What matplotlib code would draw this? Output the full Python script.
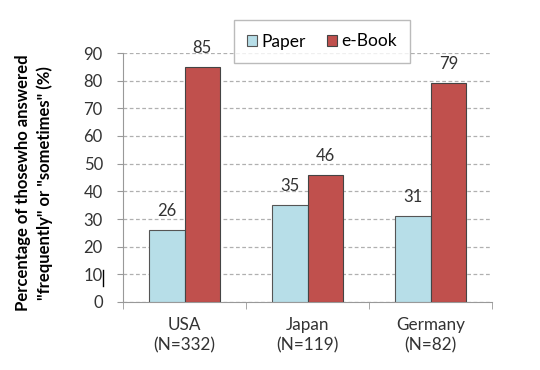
import numpy as np
import matplotlib.pyplot as plt
from matplotlib.lines import Line2D

plt.rcParams['font.family'] = ['Lato', 'DejaVu Sans']

countries = ['USA\n(N=332)', 'Japan\n(N=119)', 'Germany\n(N=82)']
paper = [26, 35, 31]
ebook = [85, 46, 79]

fig = plt.figure(figsize=(5.4, 3.7), dpi=100)
ax = fig.add_axes([123/540, 1-302/370, 369/540, 249/370])

x = np.arange(len(countries))
w = 0.29
b1 = ax.bar(x - w/2, paper, w, color='#B7DEE8', edgecolor='#555555', linewidth=0.8,
            label='Paper', zorder=3)
b2 = ax.bar(x + w/2, ebook, w, color='#C0504D', edgecolor='#444444', linewidth=0.8,
            label='e-Book', zorder=3)
ax.bar_label(b1, padding=8, fontsize=12, color='#333333')
ax.bar_label(b2, padding=8, fontsize=12, color='#333333')

ax.set_xlim(-0.5, 2.5)
ax.set_ylim(0, 90)
ax.set_yticks(range(0, 91, 10))
ax.set_xticks(x)
ax.set_xticklabels(countries, fontsize=12.3, linespacing=1.3)
ax.set_xticks([-0.5, 0.5, 1.5, 2.5], minor=True)
ax.tick_params(axis='x', which='major', length=0, pad=11, colors='#333333')
ax.tick_params(axis='x', which='minor', length=5, color='#999999')
ax.tick_params(axis='y', length=4.5, pad=10, color='#999999', labelsize=12,
               labelcolor='#333333')

ax.grid(axis='y', linestyle=(0, (3, 2)), color='#b0b0b0', linewidth=0.9, zorder=0)
for s in ['top', 'right']:
    ax.spines[s].set_visible(False)
for s in ['left', 'bottom']:
    ax.spines[s].set_color('#999999')

ax.set_ylabel('Percentage of thosewho answered\n"frequently" or "sometimes" (%)',
              fontsize=12, fontweight='bold', linespacing=1.4)
ax.yaxis.set_label_coords(-0.191, 0.478)

# stray text cursor next to the "10" tick label
fig.add_artist(Line2D([103/540, 103/540], [1-270/370, 1-286/370], color='black', linewidth=1.0))

leg = fig.legend(loc='center', bbox_to_anchor=(322/540, 1-41.5/370), ncol=2, fontsize=12.5,
                 fancybox=False, edgecolor='#aaaaaa', handlelength=0.6, handleheight=0.6,
                 handletextpad=0.25, columnspacing=1.2, borderpad=0.75)
leg.get_frame().set_linewidth(1.0)

fig.savefig('out.png', dpi=100)
